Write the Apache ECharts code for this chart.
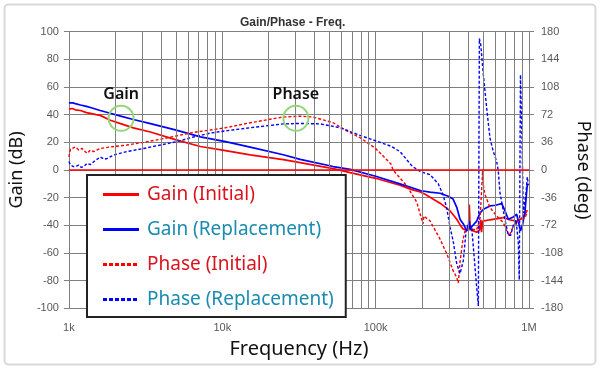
<!DOCTYPE html>
<html><head><meta charset="utf-8">
<script src="https://cdn.jsdelivr.net/npm/echarts@6/dist/echarts.min.js"></script>
<style>html,body{margin:0;padding:0;background:#fff}#c{width:600px;height:370px}</style>
</head><body><div id="c"></div>
<script>
// ---- data (frequency in Hz) ----
const gainInitFreq = [1000,1020,1050,1100,1190,1300,1380,1500,1600,1860,2170,2630,3400,4940,7200,10500,15200,25000,32200,52900,68200,100000,144000,170000,198000,204000,210000,263000,306000,338000,359000,373000,389000,403000,408000,413000,434000,456000,475000,485000,490000,499000,557000,680000,744000,831000,896000,942000,975000];
const gainInitVal  = [44,45,44.5,43.5,43,41.5,41,40,39.5,36,33.5,30.5,27.5,22,17,14,11,7.5,5.3,1,-1.9,-6,-11,-14,-16,-15,-17.5,-24,-29.6,-35.6,-40.4,-42.8,-43,-43,-25,-43,-44,-45,-43.5,-36,-45,-37,-36,-34.4,-36,-37,-35,-32,-29];

const gainReplFreq = [1000,1030,1060,1100,1190,1300,1400,1600,1860,2170,2630,3400,4940,7200,10500,15200,25000,32200,52900,68200,100000,144000,198000,226000,263000,297000,320000,338000,355000,373000,383000,393000,403000,408000,413000,423000,434000,456000,467000,480000,504000,557000,604000,664000,698000,733000,790000,831000,864000,880000,906000,942000,975000];
const gainReplVal  = [48.5,49.5,48.5,48,47,46,45,43,41,39,36.5,33.5,29,24,20.5,16.5,11,7.7,2.5,0.5,-4.5,-10,-15,-16,-16.8,-19,-21,-27,-35.6,-39,-40.4,-44,-42,-37,-43,-41,-40,-37,-34,-31,-28.4,-26,-25.5,-24.3,-29.6,-35.6,-34,-32,-40,-44,-40,-29.6,-10];

const phaseInitFreq = [1000,1023,1050,1102,1158,1219,1260,1314,1380,1450,1604,1864,2390,3070,3950,5060,6500,8350,10500,15200,25000,32200,39000,52900,58700,68200,79300,100000,125600,130000,160000,185500,198000,204000,206000,226000,263000,291000,320000,338000,346000,355000,370000,383000,420000,456000,480000,499000,504000,517000,557000,616000,680000,716000,744000,770000,811000,874000,942000,975000];
const phaseInitVal  = [17,27,28,30,26,28,25,21.7,26,24,28,30,32.5,36,40,44.5,49,52,55,61.5,69,70,69,61.5,56,48.5,42,28,8,0,-21,-42,-62,-70,-60,-66,-90,-109,-131,-140,-147,-120,-92,-79,-77,-78,-62,0,-20,-32,-49,-60,-68.5,-79,-86,-78,-70,-66,-62,-55];

const phaseReplFreq = [1000,1023,1075,1120,1158,1200,1249,1314,1380,1450,1604,1700,1774,1958,2390,3070,3950,5060,6500,8350,10500,15200,25000,32200,43500,58700,68200,79300,100000,125600,144000,173000,195000,226000,256000,275000,291000,306000,320000,338000,355000,361000,373000,389000,402000,423000,434000,456000,467500,474600,484600,503900,530000,557000,585000,616000,631000,647000,698000,733000,760000,790000,823000,852000,864000,880000,900000,918000,956000,975000,990000];
const phaseReplVal  = [11,6.5,4.3,5,6.5,3.5,4.3,8.7,7,10.8,17,14,15,19.5,24,28,32.5,37,43,48,51,55,60,60.6,60,55,50,45,38,31,24,5,-2,-6,-18,-32,-50,-75,-92,-122,-135,-137,-118,-79,-70,-75,-101,-153,-177,171,163,124,80,41,24,11,-2,-30,-65,-85,-85,-72,-65,-95,-143,124,40,-56,-30,-9,-20];

const xTickLabels = {1000:'1k', 10000:'10k', 100000:'100k', 1000000:'1M'};
const minorGridFreqs = [2000,3000,4000,5000,6000,7000,8000,9000,20000,30000,40000,50000,60000,70000,80000,90000,200000,300000,400000,500000,600000,700000,800000,900000];
const annoNames = ['Gain','Phase'];
const annoFreqs = [2190, 30200];
const annoVals  = [37.4, 37.4];
const legendNames = ['Gain (Initial)','Gain (Replacement)','Phase (Initial)','Phase (Replacement)'];

// ---- styles ----
const RED = '#ff0000', BLUE = '#0000ff';
const GRID = '#7f7f7f';
const LEG_RED = '#d9141f', LEG_TEAL = '#1b8bb0';
const legendTextColors = [LEG_RED, LEG_TEAL, LEG_RED, LEG_TEAL];
const tickFont = {fontFamily:'Liberation Sans', fontSize:11, color:'#595959'};
const nameFont = {fontFamily:'Noto Sans', fontSize:18, color:'#111'};

function pairs(f, v){ return f.map((x,i)=>[x, v[i]]); }

const chart = echarts.init(document.getElementById('c'));
chart.setOption({
  animation:false,
  backgroundColor:'#fff',
  graphic:[{type:'rect', shape:{x:4.5,y:4.5,width:591,height:360,r:4}, style:{fill:'none', stroke:'#d9d9d9', lineWidth:2}, z:-10, silent:true}],
  title:{text:'Gain/Phase - Freq.', left:235, top:12, textStyle:{fontFamily:'Liberation Sans', fontSize:12, fontWeight:'bold', color:'#333'}},
  grid:{left:68.5, right:71, top:31.7, bottom:61.7},
  xAxis:{type:'log', logBase:10, min:1000, max:1000000,
    name:'Frequency (Hz)', nameLocation:'middle', nameGap:31, nameTextStyle:{fontFamily:'Noto Sans', fontSize:20, color:'#111'},
    axisLine:{show:true, lineStyle:{color:GRID}}, axisTick:{show:true, length:5, lineStyle:{color:GRID}},
    axisLabel:Object.assign({margin:14, formatter:v=>xTickLabels[Math.round(v)]||''}, tickFont),
    splitLine:{show:true, lineStyle:{color:GRID, width:1}}},
  yAxis:[
    {type:'value', min:-100, max:100, interval:20, position:'left',
     name:'Gain (dB)', nameLocation:'middle', nameRotate:90, nameGap:38, nameTextStyle:nameFont,
     axisLine:{show:true, lineStyle:{color:GRID}}, axisTick:{show:true, length:5, lineStyle:{color:GRID}},
     axisLabel:Object.assign({margin:10}, tickFont),
     splitLine:{show:true, lineStyle:{color:GRID, width:1}}},
    {type:'value', min:-180, max:180, interval:36, position:'right',
     name:'Phase (deg)', nameLocation:'middle', nameRotate:-90, nameGap:43, nameTextStyle:nameFont,
     axisLine:{show:true, lineStyle:{color:GRID}}, axisTick:{show:true, length:5, lineStyle:{color:GRID}},
     axisLabel:Object.assign({margin:12}, tickFont),
     splitLine:{show:false}}
  ],
  legend:{
    orient:'vertical', left:87, top:175, padding:[10,12,8,14.5], itemGap:16, itemWidth:36, itemHeight:14,
    backgroundColor:'#fff', borderColor:'#222', borderWidth:2, selectedMode:false, z:10,
    lineStyle:{width:3}, itemStyle:{opacity:0},
    textStyle:{fontFamily:'Noto Sans', fontSize:19, padding:[0,0,0,3]},
    data: legendNames.map((n,i)=>({name:n, textStyle:{color:legendTextColors[i]}, itemStyle:{opacity:0},
      lineStyle: i>=2 ? {width:3, type:[4,2]} : {width:3}}))
  },
  series:[
    {type:'line', name:'_grid', data:[], z:1, silent:true,
     markLine:{silent:true, symbol:'none', animation:false,
       data: minorGridFreqs.map(f=>({xAxis:f, lineStyle:{color:GRID, width:1, type:'solid'}, label:{show:false}}))
         .concat([{yAxis:0, lineStyle:{color:RED, width:1.5, type:'solid'}, label:{show:false}}])}},
    {type:'line', name:legendNames[0], yAxisIndex:0, data:pairs(gainInitFreq, gainInitVal), symbol:'none', showSymbol:false, z:3,
     lineStyle:{color:RED, width:1.7}, itemStyle:{color:RED}},
    {type:'line', name:legendNames[1], yAxisIndex:0, data:pairs(gainReplFreq, gainReplVal), symbol:'none', showSymbol:false, z:3,
     lineStyle:{color:BLUE, width:1.7}, itemStyle:{color:BLUE}},
    {type:'line', name:legendNames[2], yAxisIndex:1, data:pairs(phaseInitFreq, phaseInitVal), symbol:'none', showSymbol:false, z:3,
     lineStyle:{color:RED, width:1.4, type:[3,2]}, itemStyle:{color:RED}},
    {type:'line', name:legendNames[3], yAxisIndex:1, data:pairs(phaseReplFreq, phaseReplVal), symbol:'none', showSymbol:false, z:3,
     lineStyle:{color:BLUE, width:1.4, type:[3,2]}, itemStyle:{color:BLUE}},
    {type:'line', name:'_anno', data:[], z:5, silent:true,
     markPoint:{silent:true, symbol:'circle', symbolSize:25, animation:false,
       itemStyle:{color:'rgba(0,0,0,0)', borderColor:'#95d67a', borderWidth:2},
       label:{show:true, position:'top', distance:2, formatter:p=>p.name, fontFamily:'Noto Sans', fontSize:16, fontWeight:600, color:'#111'},
       data: annoNames.map((n,i)=>({name:n, coord:[annoFreqs[i], annoVals[i]]}))}}
  ]
});
</script></body></html>
